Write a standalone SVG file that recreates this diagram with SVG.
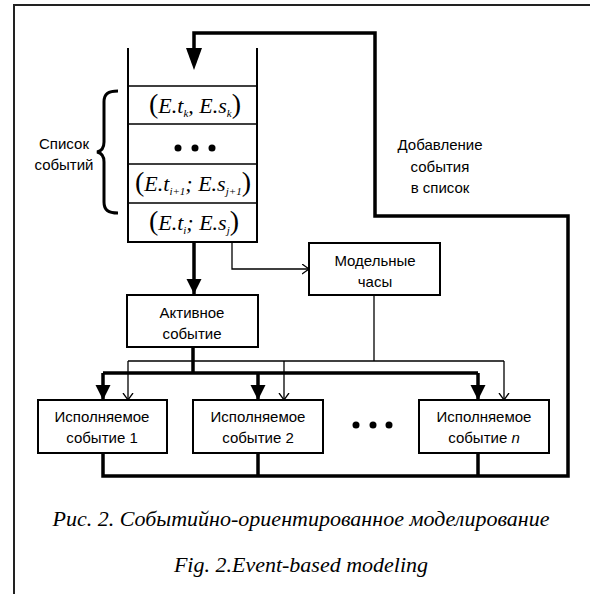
<svg xmlns="http://www.w3.org/2000/svg" width="590" height="594" viewBox="0 0 590 594">
<style>
.box{fill:#fff;stroke:#000;stroke-width:2}
.thick{fill:none;stroke:#000;stroke-width:3.5}
.thin{fill:none;stroke:#000;stroke-width:1.3}
.lbl{font-family:"Liberation Sans",Arial,sans-serif;font-size:15px;fill:#000;text-anchor:middle}
.math{font-family:"Liberation Serif","Times New Roman",serif;font-style:italic;font-size:22px;fill:#000;text-anchor:middle}
.sub{font-size:11px}
.par{font-style:normal;font-size:28px}
.cap{font-family:"Liberation Serif","Times New Roman",serif;font-style:italic;font-size:22px;fill:#000;text-anchor:middle}
</style>
<defs>
<marker id="ah" markerUnits="userSpaceOnUse" markerWidth="16" markerHeight="16" refX="15" refY="7.5" orient="auto" viewBox="0 0 16 16">
<path d="M0,0 L15,7.5 L0,15 Z" fill="#000"/>
</marker>
<marker id="av" markerUnits="userSpaceOnUse" markerWidth="10" markerHeight="12" refX="7" refY="5.5" orient="auto" viewBox="0 0 10 12">
<path d="M0,0.5 L7,5.5 L0,10.5" fill="none" stroke="#000" stroke-width="1.3"/>
</marker>
</defs>
<rect width="590" height="594" fill="#fff"/>
<g id="frame">
<path d="M14,594 V5 H590" fill="none" stroke="#222" stroke-width="2"/>
</g>
<g id="connectors">
<path class="thick" d="M103,453 V476 H568 V216 H375 V33 H194 V50"/>
<path d="M186,48 L202,48 L194,70 Z" fill="#000"/>
<path class="thick" d="M258,453 V476"/>
<path class="thick" d="M478,453 V476"/>
<path class="thick" d="M194,242 V294" marker-end="url(#ah)"/>
<path class="thin" d="M232,242 V269 H309" marker-end="url(#av)"/>
<path class="thick" d="M193,347 V373"/>
<path class="thick" d="M103,373 H478"/>
<path class="thick" d="M103,373 V400" marker-end="url(#ah)"/>
<path class="thick" d="M258,373 V400" marker-end="url(#ah)"/>
<path class="thick" d="M478,373 V400" marker-end="url(#ah)"/>
<path class="thin" d="M374,295 V361"/>
<path class="thin" d="M128,361 H504"/>
<path class="thin" d="M128,361 V400" marker-end="url(#av)"/>
<path class="thin" d="M284,361 V400" marker-end="url(#av)"/>
<path class="thin" d="M504,361 V400" marker-end="url(#av)"/>
</g>
<g id="event-list">
<path d="M128,48 V242 H257 V48" fill="none" stroke="#000" stroke-width="2"/>
<path d="M128,86 H257 M128,124 H257 M128,164 H257 M128,203 H257" stroke="#000" stroke-width="1.3"/>
<text class="math" x="195" y="113"><tspan class="par">(</tspan>E.t<tspan class="sub" dy="4">k</tspan><tspan dy="-4">, E.s</tspan><tspan class="sub" dy="4">k</tspan><tspan class="par" dy="-4">)</tspan></text>
<circle cx="178" cy="148" r="3.5"/>
<circle cx="195" cy="148" r="3.5"/>
<circle cx="212" cy="148" r="3.5"/>
<text class="math" x="193" y="191"><tspan class="par">(</tspan>E.t<tspan class="sub" dy="4">i+1</tspan><tspan dy="-4">; E.s</tspan><tspan class="sub" dy="4">j+1</tspan><tspan class="par" dy="-4">)</tspan></text>
<text class="math" x="194" y="230"><tspan class="par">(</tspan>E.t<tspan class="sub" dy="4">i</tspan><tspan dy="-4">; E.s</tspan><tspan class="sub" dy="4">j</tspan><tspan class="par" dy="-4">)</tspan></text>
</g>
<g id="list-label">
<path d="M118,91 C108,91 104,94 104,102 V142 C104,148 102,151 97,152 C102,153 104,156 104,162 V202 C104,210 108,213 118,213" fill="none" stroke="#000" stroke-width="3"/>
<text class="lbl" x="64" y="149">Список</text>
<text class="lbl" x="64" y="170">событий</text>
</g>
<g id="add-label">
<text class="lbl" x="440" y="150">Добавление</text>
<text class="lbl" x="440" y="172">события</text>
<text class="lbl" x="440" y="193">в список</text>
</g>
<g id="active-event">
<rect class="box" x="127" y="295" width="131" height="52"/>
<text class="lbl" x="192" y="318">Активное</text>
<text class="lbl" x="192" y="339">событие</text>
</g>
<g id="model-clock">
<rect class="box" x="309" y="243" width="131" height="52"/>
<text class="lbl" x="375" y="266">Модельные</text>
<text class="lbl" x="375" y="287">часы</text>
</g>
<g id="exec1">
<rect class="box" x="38" y="400" width="129" height="53"/>
<text class="lbl" x="102" y="422">Исполняемое</text>
<text class="lbl" x="102" y="443">событие 1</text>
</g>
<g id="exec2">
<rect class="box" x="193" y="400" width="130" height="53"/>
<text class="lbl" x="258" y="422">Исполняемое</text>
<text class="lbl" x="258" y="443">событие 2</text>
</g>
<g id="exec-dots">
<circle cx="356" cy="425" r="3.5"/>
<circle cx="373" cy="425" r="3.5"/>
<circle cx="389" cy="425" r="3.5"/>
</g>
<g id="execn">
<rect class="box" x="419" y="400" width="130" height="53"/>
<text class="lbl" x="484" y="422">Исполняемое</text>
<text class="lbl" x="484" y="443">событие <tspan font-style="italic">n</tspan></text>
</g>
<g id="caption">
<text class="cap" x="301" y="526">Рис. 2. Событийно-ориентированное моделирование</text>
<text class="cap" x="301" y="572">Fig. 2.Event-based modeling</text>
</g>
</svg>
